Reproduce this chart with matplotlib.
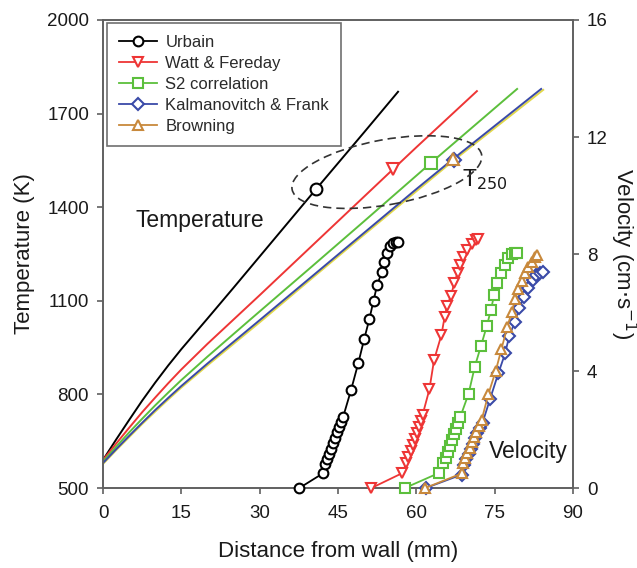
import matplotlib
matplotlib.use("Agg")
import matplotlib.pyplot as plt
from matplotlib.patches import Ellipse
from matplotlib.lines import Line2D

plt.rcParams['font.family'] = ['Liberation Sans', 'DejaVu Sans']

# ---------------- data ----------------
series_names = ["Urbain", "Watt & Fereday", "S2 correlation", "Kalmanovitch & Frank", "Browning"]
series_colors = ["#000000", "#ee3535", "#5cbf3c", "#3a4aa8", "#c8893c"]
series_markers = ["o", "v", "s", "D", "^"]

# Temperature profiles (K) vs distance from wall (mm)
temp_x_urbain = [0, 2.5, 5, 7.5, 10, 12.5, 15, 20, 25, 30, 40, 50, 56.5]
temp_y_urbain = [590, 655, 718, 780, 838, 893, 945, 1043, 1142, 1242, 1442, 1640, 1770]
temp_x_watt = [0, 2.5, 5, 7.5, 10, 12.5, 15, 20, 25, 30, 40, 50, 55.5, 60, 71.6]
temp_y_watt = [590, 642, 693, 743, 790, 836, 880, 962, 1040, 1118, 1276, 1434, 1521, 1592, 1772]
temp_x_s2 = [0, 2.5, 5, 7.5, 10, 12.5, 15, 20, 28.2, 40, 50, 62.8, 79.3]
temp_y_s2 = [585, 632, 678, 722, 765, 806, 846, 921, 1040, 1210, 1355, 1542, 1779]
temp_x_kf = [0, 2.5, 5, 7.5, 10, 12.5, 15, 20, 30, 40, 50, 60, 67, 83.9]
temp_y_kf = [580, 624, 667, 709, 750, 789, 827, 899, 1038, 1178, 1318, 1458, 1554, 1779]
temp_x_brown = [0, 2.5, 5, 7.5, 10, 12.5, 15, 20, 30, 40, 50, 60, 67, 84.3]
temp_y_brown = [577, 621, 663, 705, 745, 784, 822, 893, 1031, 1172, 1312, 1451, 1548, 1776]

# T250 points (distance mm, temperature K)
t250_x = [40.8, 55.5, 62.8, 67.2, 67.0]
t250_y = [1458, 1521, 1542, 1550, 1556]

# Velocity profiles (cm/s) vs distance from wall (mm)
vel_x_urbain = [37.6, 42.1, 42.5, 42.9, 43.3, 43.7, 44.1, 44.4, 44.8, 45.2, 45.6, 46.0,
                47.5, 48.9, 50.0, 51.0, 51.8, 52.5, 53.4, 53.9, 54.4, 55.0, 55.6, 56.2, 56.5]
vel_y_urbain = [0, 0.50, 0.81, 0.99, 1.17, 1.35, 1.53, 1.72, 1.90, 2.08, 2.26, 2.44,
                3.35, 4.28, 5.08, 5.77, 6.40, 6.94, 7.39, 7.74, 8.02, 8.27, 8.39, 8.42, 8.42]
vel_x_watt = [51.4, 57.2, 58.1, 58.5, 58.9, 59.3, 59.7, 60.1, 60.5, 60.9, 61.2,
              62.5, 63.4, 64.8, 65.4, 65.9, 66.6, 67.3, 67.9, 68.4, 69.0, 69.8, 70.6, 71.4, 71.9]
vel_y_watt = [0, 0.50, 0.84, 1.05, 1.26, 1.46, 1.67, 1.88, 2.09, 2.30, 2.50,
              3.37, 4.38, 5.23, 5.83, 6.22, 6.56, 7.02, 7.36, 7.62, 7.89, 8.14, 8.34, 8.48, 8.50]
vel_x_s2 = [57.8, 64.4, 65.2, 65.6, 66.0, 66.4, 66.8, 67.2, 67.6, 68.0, 68.4,
            70.0, 71.2, 72.4, 73.5, 74.3, 74.9, 75.5, 76.3, 77.0, 77.6, 78.3, 78.9, 79.3]
vel_y_s2 = [0, 0.52, 0.84, 1.04, 1.24, 1.43, 1.63, 1.83, 2.03, 2.23, 2.42,
            3.22, 4.15, 4.87, 5.54, 6.10, 6.60, 7.02, 7.36, 7.62, 7.85, 8.00, 8.02, 8.02]
vel_x_kf = [61.8, 68.7, 69.2, 69.6, 70.0, 70.4, 70.8, 71.3, 71.7, 72.2, 72.7,
            74.1, 75.7, 77.0, 77.8, 78.9, 79.7, 80.6, 81.3, 82.3, 83.0, 83.7, 84.3]
vel_y_kf = [0, 0.46, 0.80, 0.98, 1.16, 1.34, 1.52, 1.70, 1.88, 2.06, 2.24,
            3.03, 3.92, 4.60, 5.20, 5.69, 6.14, 6.52, 6.83, 7.11, 7.28, 7.36, 7.40]
vel_x_brown = [61.7, 68.7, 69.0, 69.4, 69.8, 70.2, 70.6, 71.0, 71.5, 72.0, 72.5,
               73.8, 75.2, 76.3, 77.4, 78.3, 78.9, 79.5, 80.2, 80.8, 81.4, 82.1, 82.7, 83.2]
vel_y_brown = [0, 0.50, 0.84, 1.02, 1.20, 1.38, 1.56, 1.74, 1.92, 2.12, 2.32,
               3.21, 4.00, 4.75, 5.49, 6.03, 6.45, 6.79, 7.09, 7.34, 7.55, 7.74, 7.91, 7.97]

x_ticks = [0, 15, 30, 45, 60, 75, 90]
temp_ticks = [500, 800, 1100, 1400, 1700, 2000]
vel_ticks = [0, 4, 8, 12, 16]

temp_x = [temp_x_urbain, temp_x_watt, temp_x_s2, temp_x_kf, temp_x_brown]
temp_y = [temp_y_urbain, temp_y_watt, temp_y_s2, temp_y_kf, temp_y_brown]
vel_x = [vel_x_urbain, vel_x_watt, vel_x_s2, vel_x_kf, vel_x_brown]
vel_y = [vel_y_urbain, vel_y_watt, vel_y_s2, vel_y_kf, vel_y_brown]

# ---------------- figure ----------------
fig = plt.figure(figsize=(6.37, 5.68), dpi=100)
ax = fig.add_axes([0.1617, 0.1408, 0.7378, 0.824])
ax2 = ax.twinx()

spine_col = "#606060"
text_col = "#1a1a1a"

temp_line_colors = ["#000000", "#ee3535", "#5cbf3c", "#3a4aa8", "#e2d84a"]
msizes = [7, 7.5, 7, 6, 7.5]
order = [4, 0, 1, 2, 3]
for i in order:
    ax.plot(temp_x[i], temp_y[i], color=temp_line_colors[i], lw=1.4, zorder=2)
for i in [0, 1, 2, 3, 4]:
    ax.plot([t250_x[i]], [t250_y[i]], linestyle="none", marker=series_markers[i],
            ms=msizes[i] + 1.5, mfc="white", mec=series_colors[i], mew=1.5, zorder=4)

for i in range(5):
    ax2.plot(vel_x[i], vel_y[i], color=series_colors[i], lw=1.3,
             marker=series_markers[i], ms=msizes[i], mfc="white",
             mec=series_colors[i], mew=1.5, zorder=3, clip_on=False)

ax.set_xlim(0, 90)
ax.set_ylim(500, 2000)
ax2.set_ylim(0, 16)
ax.set_xticks(x_ticks)
ax.set_yticks(temp_ticks)
ax2.set_yticks(vel_ticks)

for a in (ax, ax2):
    for s in a.spines.values():
        s.set_color(spine_col)
        s.set_linewidth(1.2)
    a.tick_params(direction="out", length=4, width=1.2, color=spine_col,
                  labelsize=13.5, labelcolor=text_col, pad=6)
ax.tick_params(axis="x", pad=8)

ax.set_xlabel("Distance from wall (mm)", fontsize=16, color=text_col, labelpad=14)
ax.set_ylabel("Temperature (K)", fontsize=16, color=text_col, labelpad=9)
ax2.set_ylabel("Velocity (cm$\\cdot$s$^{-1}$)", fontsize=16, color=text_col,
               rotation=-90, labelpad=22)

# annotations
ell = Ellipse((0.604, 0.675), 0.41, 0.139, angle=10.4, transform=ax.transAxes,
              fill=False, ls=(0, (5, 3)), lw=1.2, ec="#333333", zorder=5)
ax.add_patch(ell)
ax.text(0.812, 0.66, "T$_{250}$", transform=ax.transAxes, fontsize=16.5,
        color=text_col, ha="center", va="center")
ax.text(0.207, 0.572, "Temperature", transform=ax.transAxes, fontsize=16.5,
        color=text_col, ha="center", va="center")
ax.text(0.905, 0.077, "Velocity", transform=ax.transAxes, fontsize=16.5,
        color=text_col, ha="center", va="center")

handles = [Line2D([0], [0], color=series_colors[i], lw=1.3, marker=series_markers[i],
                  ms=msizes[i], mfc="white", mec=series_colors[i], mew=1.5)
           for i in range(5)]
leg = ax2.legend(handles, series_names, loc="upper left", bbox_to_anchor=(0.008, 0.994),
                 borderaxespad=0, fontsize=12, frameon=True, fancybox=False,
                 handlelength=2.3, labelspacing=0.36, handletextpad=0.5,
                 borderpad=0.72, framealpha=1)
leg.get_frame().set_edgecolor("#707070")
leg.get_frame().set_linewidth(1.2)
for t in leg.get_texts():
    t.set_color("#2a2a2a")

fig.savefig("out.png", dpi=100)
